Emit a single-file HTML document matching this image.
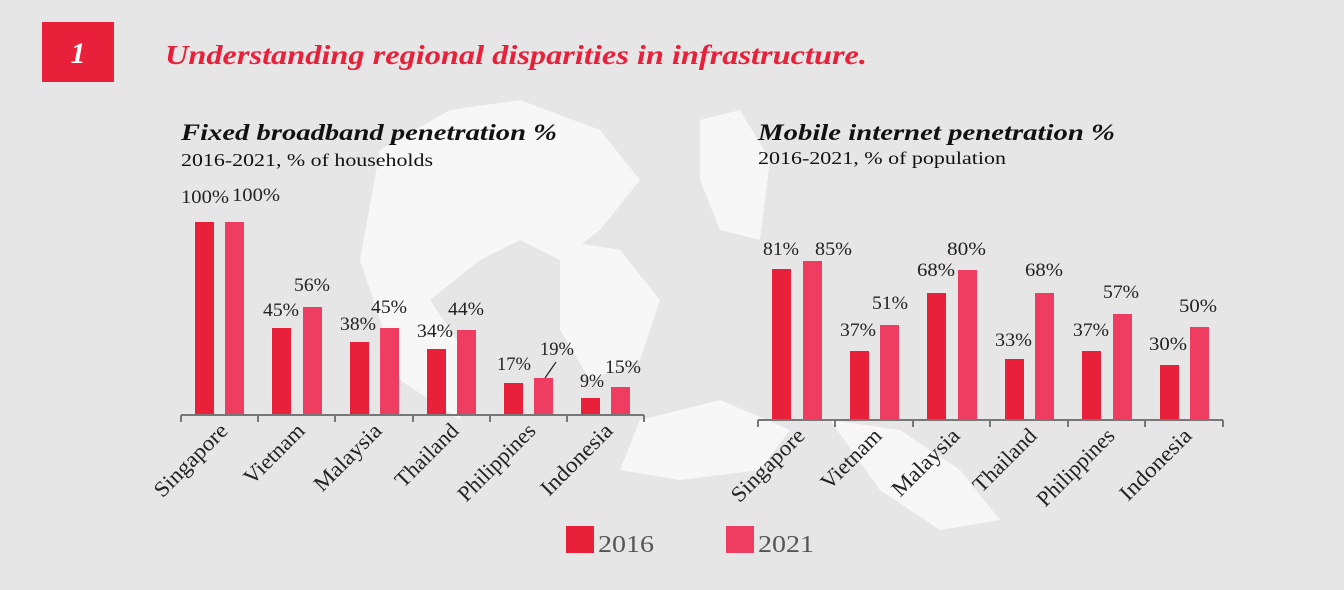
<!DOCTYPE html>
<html><head><meta charset="utf-8"><style>
body{margin:0;background:#e6e6e6;}
svg{display:block;font-family:"Liberation Serif",serif;}
</style></head><body>
<svg width="1344" height="590" viewBox="0 0 1344 590" xmlns="http://www.w3.org/2000/svg">
<rect width="1344" height="590" fill="#e6e6e6"/>
<g fill="#f7f7f7">
<path d="M380 150 L450 110 L520 100 L600 130 L640 180 L600 230 L560 260 L520 240 L480 260 L430 300 L470 360 L460 420 L400 380 L380 320 L360 260 Z"/>
<path d="M560 240 L620 250 L660 300 L640 360 L590 380 L560 330 Z"/>
<path d="M700 120 L740 110 L770 160 L760 240 L720 230 L700 180 Z"/>
<path d="M640 420 L720 400 L790 430 L760 470 L680 480 L620 470 Z"/>
<path d="M830 420 L900 430 L960 470 L1000 520 L940 530 L880 490 Z"/>
</g>
<rect x="42" y="22" width="72" height="60" fill="#e8203a"/>
<text x="78" y="63" fill="#fff" font-size="30" font-weight="bold" font-style="italic" text-anchor="middle">1</text>
<text x="165" y="64" fill="#e8203a" font-size="27" font-weight="bold" font-style="italic" textLength="702" lengthAdjust="spacingAndGlyphs">Understanding regional disparities in infrastructure.</text>
<text x="181" y="140" fill="#111" font-size="23" font-weight="bold" font-style="italic" textLength="376" lengthAdjust="spacingAndGlyphs">Fixed broadband penetration %</text>
<text x="181" y="166" fill="#111" font-size="18" textLength="252" lengthAdjust="spacingAndGlyphs">2016-2021, % of households</text>
<text x="758" y="140" fill="#111" font-size="23" font-weight="bold" font-style="italic" textLength="357" lengthAdjust="spacingAndGlyphs">Mobile internet penetration %</text>
<text x="758" y="164" fill="#111" font-size="18" textLength="248" lengthAdjust="spacingAndGlyphs">2016-2021, % of population</text>

<!-- left chart -->
<g font-size="19" fill="#222">
<rect x="195" y="222" width="19" height="193" fill="#e8203a"/><rect x="225" y="222" width="19" height="193" fill="#ef3d62"/>
<rect x="272" y="328" width="19" height="87" fill="#e8203a"/><rect x="303" y="307" width="19" height="108" fill="#ef3d62"/>
<rect x="350" y="342" width="19" height="73" fill="#e8203a"/><rect x="380" y="328" width="19" height="87" fill="#ef3d62"/>
<rect x="427" y="349" width="19" height="66" fill="#e8203a"/><rect x="457" y="330" width="19" height="85" fill="#ef3d62"/>
<rect x="504" y="383" width="19" height="32" fill="#e8203a"/><rect x="534" y="378" width="19" height="37" fill="#ef3d62"/>
<rect x="581" y="398" width="19" height="17" fill="#e8203a"/><rect x="611" y="387" width="19" height="28" fill="#ef3d62"/>
<text x="181" y="203" textLength="48" lengthAdjust="spacingAndGlyphs">100%</text><text x="232" y="201" textLength="48" lengthAdjust="spacingAndGlyphs">100%</text>
<text x="263" y="316" textLength="36" lengthAdjust="spacingAndGlyphs">45%</text><text x="294" y="291" textLength="36" lengthAdjust="spacingAndGlyphs">56%</text>
<text x="340" y="330" textLength="36" lengthAdjust="spacingAndGlyphs">38%</text><text x="371" y="313" textLength="36" lengthAdjust="spacingAndGlyphs">45%</text>
<text x="417" y="337" textLength="36" lengthAdjust="spacingAndGlyphs">34%</text><text x="448" y="315" textLength="36" lengthAdjust="spacingAndGlyphs">44%</text>
<text x="497" y="370" textLength="34" lengthAdjust="spacingAndGlyphs">17%</text><text x="540" y="355" textLength="34" lengthAdjust="spacingAndGlyphs">19%</text>
<text x="580" y="387" textLength="24" lengthAdjust="spacingAndGlyphs">9%</text><text x="605" y="373" textLength="36" lengthAdjust="spacingAndGlyphs">15%</text>
<line x1="556" y1="362" x2="545" y2="378" stroke="#222" stroke-width="1.2"/>
<path d="M181 415 H644 M181 415 v7 M258 415 v7 M335 415 v7 M413 415 v7 M490 415 v7 M567 415 v7 M644 415 v7" stroke="#777" stroke-width="2" fill="none"/>
<g font-size="22" text-anchor="end">
<text transform="translate(229,432) rotate(-45)" textLength="94" lengthAdjust="spacingAndGlyphs">Singapore</text>
<text transform="translate(306,432) rotate(-45)" textLength="76" lengthAdjust="spacingAndGlyphs">Vietnam</text>
<text transform="translate(383,432) rotate(-45)" textLength="86" lengthAdjust="spacingAndGlyphs">Malaysia</text>
<text transform="translate(460,432) rotate(-45)" textLength="80" lengthAdjust="spacingAndGlyphs">Thailand</text>
<text transform="translate(537,432) rotate(-45)" textLength="100" lengthAdjust="spacingAndGlyphs">Philippines</text>
<text transform="translate(614,432) rotate(-45)" textLength="92" lengthAdjust="spacingAndGlyphs">Indonesia</text>
</g>
</g>

<!-- right chart -->
<g font-size="19" fill="#222">
<rect x="772" y="269" width="19" height="151" fill="#e8203a"/><rect x="803" y="261" width="19" height="159" fill="#ef3d62"/>
<rect x="850" y="351" width="19" height="69" fill="#e8203a"/><rect x="880" y="325" width="19" height="95" fill="#ef3d62"/>
<rect x="927" y="293" width="19" height="127" fill="#e8203a"/><rect x="958" y="270" width="19" height="150" fill="#ef3d62"/>
<rect x="1005" y="359" width="19" height="61" fill="#e8203a"/><rect x="1035" y="293" width="19" height="127" fill="#ef3d62"/>
<rect x="1082" y="351" width="19" height="69" fill="#e8203a"/><rect x="1113" y="314" width="19" height="106" fill="#ef3d62"/>
<rect x="1160" y="365" width="19" height="55" fill="#e8203a"/><rect x="1190" y="327" width="19" height="93" fill="#ef3d62"/>
<text x="763" y="255" textLength="36" lengthAdjust="spacingAndGlyphs">81%</text><text x="815" y="255" textLength="37" lengthAdjust="spacingAndGlyphs">85%</text>
<text x="840" y="336" textLength="36" lengthAdjust="spacingAndGlyphs">37%</text><text x="872" y="309" textLength="36" lengthAdjust="spacingAndGlyphs">51%</text>
<text x="917" y="276" textLength="38" lengthAdjust="spacingAndGlyphs">68%</text><text x="947" y="255" textLength="39" lengthAdjust="spacingAndGlyphs">80%</text>
<text x="995" y="346" textLength="37" lengthAdjust="spacingAndGlyphs">33%</text><text x="1025" y="276" textLength="38" lengthAdjust="spacingAndGlyphs">68%</text>
<text x="1073" y="336" textLength="36" lengthAdjust="spacingAndGlyphs">37%</text><text x="1103" y="298" textLength="36" lengthAdjust="spacingAndGlyphs">57%</text>
<text x="1149" y="350" textLength="38" lengthAdjust="spacingAndGlyphs">30%</text><text x="1179" y="312" textLength="38" lengthAdjust="spacingAndGlyphs">50%</text>
<path d="M758 420 H1223 M758 420 v7 M835 420 v7 M913 420 v7 M990 420 v7 M1068 420 v7 M1145 420 v7 M1223 420 v7" stroke="#777" stroke-width="2" fill="none"/>
<g font-size="22" text-anchor="end">
<text transform="translate(806,437) rotate(-45)" textLength="94" lengthAdjust="spacingAndGlyphs">Singapore</text>
<text transform="translate(883,437) rotate(-45)" textLength="76" lengthAdjust="spacingAndGlyphs">Vietnam</text>
<text transform="translate(961,437) rotate(-45)" textLength="86" lengthAdjust="spacingAndGlyphs">Malaysia</text>
<text transform="translate(1038,437) rotate(-45)" textLength="80" lengthAdjust="spacingAndGlyphs">Thailand</text>
<text transform="translate(1116,437) rotate(-45)" textLength="100" lengthAdjust="spacingAndGlyphs">Philippines</text>
<text transform="translate(1193,437) rotate(-45)" textLength="92" lengthAdjust="spacingAndGlyphs">Indonesia</text>
</g>
</g>

<rect x="566" y="526" width="28" height="27" fill="#e8203a"/>
<text x="598" y="552" font-size="24" fill="#555" textLength="56" lengthAdjust="spacingAndGlyphs">2016</text>
<rect x="726" y="526" width="28" height="27" fill="#ef3d62"/>
<text x="758" y="552" font-size="24" fill="#555" textLength="56" lengthAdjust="spacingAndGlyphs">2021</text>
</svg>
</body></html>
